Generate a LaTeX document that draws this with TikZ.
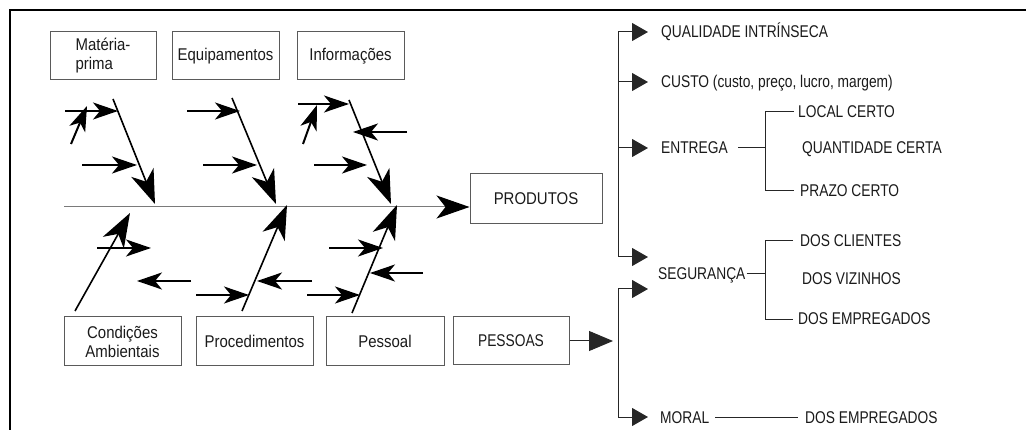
\documentclass[tikz,border=0pt]{standalone}
\usepackage{fontspec}
\setmainfont{Liberation Sans}[FakeStretch=0.81]
\newfontfamily\boxfont{Liberation Sans}[FakeStretch=0.88]
\usetikzlibrary{arrows.meta}
\definecolor{boxgray}{HTML}{5A5A5A}
\definecolor{spinegray}{HTML}{7A7A7A}
\definecolor{ink}{HTML}{1A1A1A}

\begin{document}
\begin{tikzpicture}[x=1pt,y=-1pt,
  font=\fontsize{17}{19}\selectfont,
  every node/.style={text=ink},
  box/.style={draw=boxgray, line width=1pt, inner sep=0pt},
  wbox/.style={box, font=\fontsize{17}{19}\selectfont\boxfont},
  bone/.style={line width=1.6pt, -{Stealth[length=34pt,width=24pt,inset=10pt]}},
  twig/.style={line width=2pt, -{Stealth[length=25pt,width=17pt,inset=7pt]}},
  lbl/.style={anchor=west, inner sep=0pt, text height=12pt, text depth=0pt},
  brk/.style={line width=1pt, draw=black!85},
  tri/.style={-{Triangle[length=16pt,width=18pt]}}
]
\useasboundingbox (0,0) rectangle (1026,430);

% outer frame
\draw[line width=2pt] (10,440) -- (10,10) -- (1040,10);

% category boxes
\node[wbox, minimum width=106pt, minimum height=48pt, align=left] (mp) at (103,56) {Matéria-\\prima};
\node[wbox, minimum width=107pt, minimum height=48pt] (eq) at (225.5,56) {Equipamentos};
\node[wbox, minimum width=107pt, minimum height=48pt] (inf) at (350.5,56) {Informações};
\node[wbox, minimum width=117pt, minimum height=49pt, align=center] (ca) at (122.5,341.5) {Condições\\Ambientais};
\node[wbox, minimum width=117pt, minimum height=49pt] (pr) at (254.5,341.5) {Procedimentos};
\node[wbox, minimum width=118pt, minimum height=49pt] (pe) at (385,341.5) {Pessoal};
\node[box, minimum width=116pt, minimum height=48pt] (ps) at (511,341) {PESSOAS};
\node[wbox, minimum width=132pt, minimum height=50pt] (prod) at (536,199) {PRODUTOS};

% spine
\coordinate (tail) at (64,207);
\draw[draw=spinegray, line width=1pt, -{Stealth[length=33pt,width=23pt,inset=9pt,color=black]}]
  (tail) -- (tail -| prod.west);

% upper bones
\draw[bone] (113,99) -- (155,204);
\draw[bone] (232,98) -- (276,204);
\draw[bone] (349,100) -- (391,204);
% lower bones
\draw[bone] (75,311) -- (130,213);
\draw[bone] (242,311) -- (287,205);
\draw[bone] (352,313) -- (397,205);

% causes on the upper bones
\draw[twig] (65,111) -- (118,111);
\draw[twig] (71,144) -- (87,106);
\draw[twig] (82,165) -- (137,165);
\draw[twig] (187,111) -- (240,111);
\draw[twig] (203,165) -- (257,165);
\draw[twig] (298,104) -- (349,104);
\draw[twig] (303,144) -- (317,105);
\draw[twig] (407,132) -- (353,132);
\draw[twig] (314,165) -- (367,165);
% causes on the lower bones
\draw[twig] (97,248) -- (151,248);
\draw[twig] (191,281) -- (137,281);
\draw[twig] (312,281) -- (257,281);
\draw[twig] (196,295) -- (249,295);
\draw[twig] (329,248) -- (383,248);
\draw[twig] (423,273) -- (370,273);
\draw[twig] (307,295) -- (360,295);

% effect labels
\node[lbl] (q)  at (661,32)  {QUALIDADE INTRÍNSECA};
\node[lbl] (c)  at (661,82)  {CUSTO (custo, preço, lucro, margem)};
\node[lbl] (e)  at (661,148) {ENTREGA};
\node[lbl] (lc) at (798,112) {LOCAL CERTO};
\node[lbl] (qc) at (802,148) {QUANTIDADE CERTA};
\node[lbl] (pc) at (800,191) {PRAZO CERTO};
\node[lbl] (s)  at (658,274) {SEGURANÇA};
\node[lbl] (dc) at (800,241) {DOS CLIENTES};
\node[lbl] (dv) at (802,279) {DOS VIZINHOS};
\node[lbl] (de) at (798,319) {DOS EMPREGADOS};
\node[lbl] (m)  at (660,417) {MORAL};
\node[lbl] (dm) at (805,417) {DOS EMPREGADOS};

% product branch
\coordinate (pb1) at (618,32);
\coordinate (pb2) at (618,82);
\coordinate (pb3) at (618,148);
\coordinate (pb4) at (618,257);
\draw[brk] (pb1) -- (pb4);
\draw[brk, tri] (pb1) -- (648,32);
\draw[brk, tri] (pb2) -- (648,82);
\draw[brk, tri] (pb3) -- (648,148);
\draw[brk, tri] (pb4) -- (648,257);

% people branch
\coordinate (ppa) at (618,289);
\coordinate (ppb) at (618,417);
\draw[brk, -{Triangle[length=24pt,width=20pt]}] (ps.east) -- (613,341);
\draw[brk] (ppa) -- (ppb);
\draw[brk, tri] (ppa) -- (648,289);
\draw[brk, tri] (ppb) -- (648,417);

% delivery sub-branch
\coordinate (ej) at (765,148);
\draw[brk] (738,148) -- (ej);
\draw[brk] (794,112) -- (765,112) -- (765,191) -- (794,191);

% safety sub-branch
\coordinate (sj) at (765,274);
\draw[brk] (s.east) ++(1pt,0) -- (sj);
\draw[brk] (793,241) -- (765,241) -- (765,320) -- (793,320);

% morale line
\draw[brk] (715,417) -- (798,417);
\end{tikzpicture}
\end{document}
